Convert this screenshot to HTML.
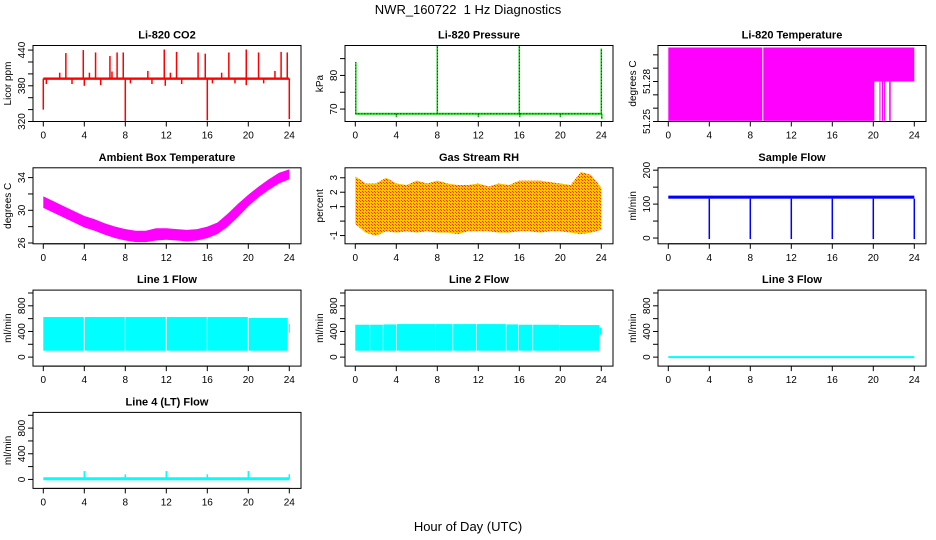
<!DOCTYPE html>
<html><head><meta charset="utf-8"><style>
html,body{margin:0;padding:0;background:#fff;}
svg{display:block;font-family:"Liberation Sans",Arial,sans-serif;}
</style></head><body>
<svg id="chart" width="936" height="540" viewBox="0 0 936 540" xmlns="http://www.w3.org/2000/svg">
<defs>
<pattern id="rhpat" width="3" height="3" patternUnits="userSpaceOnUse">
<rect width="3" height="3" fill="#ffc400"/><rect x="0" y="0" width="1" height="1" fill="#ff3000"/><rect x="2" y="2" width="1" height="1" fill="#ff3000"/>
</pattern>
</defs>
<text x="468" y="14" text-anchor="middle" font-size="13">NWR_160722&#160; 1 Hz Diagnostics</text>
<text x="468" y="531" text-anchor="middle" font-size="13">Hour of Day (UTC)</text>
</svg>
<script>
// ---- data ----
const hours = [0,1,2,3,4,5,6,7,8,9,10,11,12,13,14,15,16,17,18,19,20,21,22,23,24];
const xTicks = [0,4,8,12,16,20,24];
// CO2
const co2Base = [390, 394];
const co2SpikeT = [2.2,3.9,5.1,6.5,7.2,7.8,10.2,11.8,13.0,15.1,15.8,18.1,19.8,21.0,23.2,23.8,1.6,4.5,6.7,12.4,17.4,22.6,0.0,0.3,2.8,4.0,5.6,8.0,8.5,10.6,11.9,13.5,16.0,16.5,18.7,19.8,21.5,24.0];
const co2SpikeV = [435,440,436,430,436,436,405,441,437,436,434,436,441,436,437,436,402,402,404,402,402,405,340,383,383,380,381,321,384,383,380,383,322,384,384,381,384,324];
// Pressure
const presBase = 68.6;
const presSpikeT = [0.05,8.0,16.0,24.0,4,12,16.05,20,24.05];
const presSpikeV = [84,89,89,88,67.6,67.6,67.6,67.6,67.0];
// Li-820 temperature blocks: start, end, low, high
const tempStart = [0,9.27,0,9.27,20.6,20.85,21.05,21.55];
const tempEnd = [9.17,24,9.17,20.1,20.7,20.95,21.15,21.7];
const tempLow = [51.28,51.28,51.2505,51.2505,51.2505,51.2505,51.2505,51.2505];
const tempHigh = [51.3055,51.3055,51.28,51.28,51.28,51.28,51.28,51.28];
// Ambient box temperature (hourly envelope)
const ambTop = [31.7,31.1,30.5,29.9,29.3,28.9,28.4,28.0,27.7,27.5,27.5,27.8,27.8,27.7,27.6,27.7,28.0,28.5,29.6,30.8,31.9,32.9,33.8,34.6,35.0];
const ambBot = [30.3,29.7,29.1,28.5,27.9,27.5,27.0,26.6,26.3,26.1,26.1,26.3,26.4,26.3,26.2,26.3,26.6,27.1,28.0,29.2,30.5,31.6,32.5,33.3,33.8];
// RH envelope
const rhTop = [3.1,2.6,2.6,3.0,2.6,2.5,2.8,2.6,2.8,2.6,2.5,2.5,2.6,2.4,2.6,2.5,2.8,2.8,2.8,2.7,2.6,2.5,3.4,3.2,2.3];
const rhBot = [-0.2,-0.8,-1.0,-0.7,-0.8,-0.7,-0.8,-0.7,-0.8,-0.8,-0.9,-0.7,-0.7,-0.7,-0.8,-0.8,-0.7,-0.7,-0.8,-0.7,-0.7,-0.8,-0.9,-0.8,-0.6];
// Sample flow
const sampBand = [116, 125];
const sampDropT = [4,8,12,16,20,24];
const sampDropV = [-3,-3,-3,-3,-3,-3];
// Line 1 flow blocks
const l1Start = [0,4.05,8.05,12.05,16.05,20.05,23.95];
const l1End = [3.95,7.95,11.95,15.95,19.95,23.85,24.05];
const l1Low = [100,100,100,100,100,100,380];
const l1High = [625,625,625,625,625,610,520];
// Line 2 flow blocks
const l2Start = [0,1.45,2.75,4.05,7.85,9.55,11.85,14.75,15.95,17.35,19.95,23.85];
const l2End = [1.38,2.68,3.98,7.78,9.48,11.78,14.68,15.88,17.28,19.88,23.78,24.05];
const l2Low = [100,100,100,100,100,100,100,100,100,100,100,350];
const l2High = [505,505,510,515,515,515,515,510,505,505,500,460];
// Line 3 / Line 4
const l3Level = 0;
const l4Level = 10;
const l4SpikeT = [4,8,12,16,20,24];
const l4SpikeV = [130,80,130,80,130,80];

// ---- layout ----
const svg = document.getElementById('chart');
const NS = 'http://www.w3.org/2000/svg';
const colX = [33,345,658], rowY = [45.5,167.8,290.1,412.4];
const BW = 268, BH = 76;
function el(tag, attrs, parent){const e=document.createElementNS(NS,tag);for(const k in attrs)e.setAttribute(k,attrs[k]);(parent||svg).appendChild(e);return e;}

function panel(col,row,title,ylab,ylim,yTicks,yLabels,name){
  const bx=colX[col], by=rowY[row];
  const g=el('g',{});
  
  
  const sx=t=>bx+10.3+t*10.25;
  const sy=v=>by+(ylim[1]-v)/(ylim[1]-ylim[0])*BH;
  const plot=el('g',{},g);
  
  
  const box=el('rect',{x:bx,y:by,width:BW,height:BH,fill:'none',stroke:'#000','stroke-width':1},g);
  
  
  const t=el('text',{x:bx+BW/2,y:by-7,'text-anchor':'middle','font-size':'11','font-weight':'bold'},g);
  t.textContent=title;
  
  
  const yl=el('text',{transform:`translate(${bx-22},${by+BH/2}) rotate(-90)`,'text-anchor':'middle','font-size':'10'},g);
  yl.textContent=ylab;
  
  
  const xa=el('g',{},g);
  
  
  el('line',{x1:sx(0),x2:sx(24),y1:by+BH,y2:by+BH,stroke:'#000'},xa);
  xTicks.forEach(h=>{
    el('line',{x1:sx(h),x2:sx(h),y1:by+BH,y2:by+BH+5,stroke:'#000'},xa);
    const tl=el('text',{x:sx(h),y:by+BH+17,'text-anchor':'middle','font-size':'10'},xa);
    tl.textContent=h;
    
    
  });
  const ya=el('g',{},g);
  
  
  el('line',{x1:bx,x2:bx,y1:sy(yTicks[0]),y2:sy(yTicks[yTicks.length-1]),stroke:'#000'},ya);
  yTicks.forEach((v,i)=>{
    el('line',{x1:bx-5,x2:bx,y1:sy(v),y2:sy(v),stroke:'#000'},ya);
    if(yLabels[i]!==''){
      const tl=el('text',{transform:`translate(${bx-8},${sy(v)}) rotate(-90)`,'text-anchor':'middle','font-size':'10'},ya);
      tl.textContent=yLabels[i];
      
      
    }
  });
  return {sx,sy,plot};
}
function rectT(p,t0,t1,lo,hi,fill){return el('rect',{x:p.sx(t0),y:p.sy(hi),width:Math.max(0.8,p.sx(t1)-p.sx(t0)),height:Math.max(1,p.sy(lo)-p.sy(hi)),fill},p.plot);}
function band(p,top,bot,fill){
  let d='';hours.forEach((h,i)=>{d+=(i?'L':'M')+p.sx(h)+','+p.sy(top[i]);});
  for(let i=hours.length-1;i>=0;i--)d+='L'+p.sx(hours[i])+','+p.sy(bot[i]);
  return el('path',{d:d+'Z',fill},p.plot);
}
function spike(p,t,from,to,col,w){return el('line',{x1:p.sx(t),x2:p.sx(t),y1:p.sy(from),y2:p.sy(to),stroke:col,'stroke-width':w},p.plot);}

// CO2
let p=panel(0,0,'Li-820 CO2','Licor ppm',[320,447.7],[320,340,360,380,400,420,440],['320','','','380','','','440'],'co2');
co2SpikeT.forEach((t,i)=>{const s=spike(p,t,(co2Base[0]+co2Base[1])/2,co2SpikeV[i],'#ff0000',1.5);});
let r=rectT(p,0,24,co2Base[0],co2Base[1],'#ff0000');

// Pressure
p=panel(1,0,'Li-820 Pressure','kPa',[66.3,88.9],[70,75,80,85],['70','','80',''],'pressure');
r=el('line',{x1:p.sx(0),x2:p.sx(24),y1:p.sy(presBase),y2:p.sy(presBase),stroke:'#00e000','stroke-width':2},p.plot);

el('line',{x1:p.sx(0),x2:p.sx(24),y1:p.sy(presBase),y2:p.sy(presBase),stroke:'#000','stroke-width':1,'stroke-dasharray':'1 2'},p.plot);
presSpikeT.forEach((t,i)=>{const s=spike(p,t,presBase,presSpikeV[i],'#00e000',1.5);
  el('line',{x1:p.sx(t),x2:p.sx(t),y1:p.sy(presBase),y2:p.sy(presSpikeV[i]),stroke:'#000','stroke-width':0.8,'stroke-dasharray':'1 2'},p.plot);});

// Li-820 temperature
p=panel(2,0,'Li-820 Temperature','degrees C',[51.25,51.307],[51.25,51.26,51.27,51.28,51.29,51.30],['51.25','','','51.28','',''],'li820-temp');
tempStart.forEach((t,i)=>{const b=rectT(p,t,tempEnd[i],tempLow[i],tempHigh[i],'#ff00ff');});

// Ambient
p=panel(0,1,'Ambient Box Temperature','degrees C',[25.9,35.2],[26,28,30,32,34],['26','','30','','34'],'ambient');
r=band(p,ambTop,ambBot,'#ff00ff');

// RH
p=panel(1,1,'Gas Stream RH','percent',[-1.57,3.69],[-1,0,1,2,3],['-1','','1','2','3'],'rh');
r=band(p,rhTop,rhBot,'url(#rhpat)');

// Sample flow
p=panel(2,1,'Sample Flow','ml/min',[-17,207],[0,50,100,150,200],['0','','100','','200'],'sample-flow');
r=rectT(p,0,24,sampBand[0],sampBand[1],'#0000ff');
sampDropT.forEach((t,i)=>{const s=spike(p,t,sampBand[0],sampDropV[i],'#0000ff',1.5);});

const flowTicks=[0,200,400,600,800,1000], flowLabels=['0','','400','','800',''];
// Line 1
p=panel(0,2,'Line 1 Flow','ml/min',[-140,1045],flowTicks,flowLabels,'line1');
l1Start.forEach((t,i)=>{const b=rectT(p,t,l1End[i],l1Low[i],l1High[i],'#00ffff');});
// Line 2
p=panel(1,2,'Line 2 Flow','ml/min',[-140,1045],flowTicks,flowLabels,'line2');
l2Start.forEach((t,i)=>{const b=rectT(p,t,l2End[i],l2Low[i],l2High[i],'#00ffff');});
// Line 3
p=panel(2,2,'Line 3 Flow','ml/min',[-140,1045],flowTicks,flowLabels,'line3');
r=el('line',{x1:p.sx(0),x2:p.sx(24),y1:p.sy(l3Level),y2:p.sy(l3Level),stroke:'#00ffff','stroke-width':2},p.plot);

// Line 4
p=panel(0,3,'Line 4 (LT) Flow','ml/min',[-140,1045],flowTicks,flowLabels,'line4');
r=el('line',{x1:p.sx(0),x2:p.sx(24),y1:p.sy(l4Level),y2:p.sy(l4Level),stroke:'#00ffff','stroke-width':3},p.plot);

l4SpikeT.forEach((t,i)=>{const s=spike(p,t,l4Level,l4SpikeV[i],'#00ffff',1.5);});
</script>
</body></html>
